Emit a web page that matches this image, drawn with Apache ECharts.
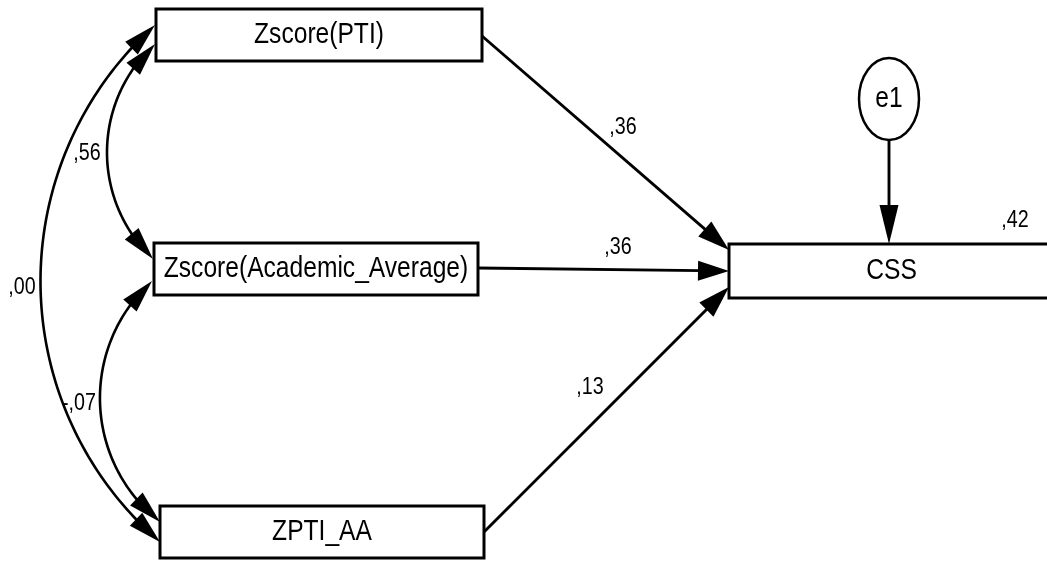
<!DOCTYPE html>
<html>
<head>
<meta charset="utf-8">
<script src="https://cdn.jsdelivr.net/npm/echarts@6/dist/echarts.min.js"></script>
<style>
html,body{margin:0;padding:0;background:#ffffff;}
#c{width:1047px;height:562px;}
</style>
</head>
<body>
<div id="c"></div>
<script>
// ---------------- data ----------------
const observedVars = ['Zscore(PTI)', 'Zscore(Academic_Average)', 'ZPTI_AA', 'CSS'];
const errorVars = ['e1'];
const pathFrom = ['Zscore(PTI)', 'Zscore(Academic_Average)', 'ZPTI_AA', 'e1'];
const pathTo = ['CSS', 'CSS', 'CSS', 'CSS'];
const pathCoef = [0.36, 0.36, 0.13, null];
const covFrom = ['Zscore(PTI)', 'Zscore(Academic_Average)', 'Zscore(PTI)'];
const covTo = ['Zscore(Academic_Average)', 'ZPTI_AA', 'ZPTI_AA'];
const covValue = [0.56, -0.07, 0.00];
const r2Var = ['CSS'];
const r2Value = [0.42];

// ---------------- layout (diagram space, separate from data) ----------------
const boxLayout = {
  'Zscore(PTI)': [156, 9, 482, 61],
  'Zscore(Academic_Average)': [154, 243, 478, 295],
  'ZPTI_AA': [160, 506, 484, 558],
  'CSS': [729, 244, 1054, 298]
};
const ellipseLayout = { e1: [889, 99, 30, 41] };
// [start, tip, labelPos, headLen, headHalfWidth]
const pathLayout = [
  [[482, 36], [729, 250], [623, 127], 32, 10],
  [[478, 268], [729, 271], [618, 247], 31, 10],
  [[484, 532], [729, 287], [590, 387], 32, 10],
  [[889, 140], [889, 244], null, 39, 9.5]
];
// [tipA, tipB, bulge, labelPos]
const covLayout = [
  [[155, 44], [153, 259], 47, [87, 153]],
  [[152, 281], [160, 522], 56, [79, 403]],
  [[155, 25], [160, 542], 117, [22, 287]]
];
const r2Layout = { CSS: [1015, 220] };

// ---------------- helpers ----------------
const FONT = '"Liberation Sans", Arial, sans-serif';
const NARROW = 0.82;
const INK = '#000000';
function fmt(v) { return v.toFixed(2).replace('0.', ','); }
function norm(v) { const l = Math.hypot(v[0], v[1]) || 1; return [v[0] / l, v[1] / l]; }
function headPoints(tip, dir, len, hw) {
  const b = [tip[0] - dir[0] * len, tip[1] - dir[1] * len];
  const n = [-dir[1], dir[0]];
  return [tip, [b[0] + n[0] * hw, b[1] + n[1] * hw], [b[0] - n[0] * hw, b[1] - n[1] * hw]];
}
function label(text, p, size) {
  return { type: 'text', x: p[0], y: p[1], scaleX: NARROW, scaleY: 1,
    style: { text: text, x: 0, y: 0, align: 'center', verticalAlign: 'middle',
      fontSize: size, fontFamily: FONT, fill: '#000' } };
}

const chart = echarts.init(document.getElementById('c'), null, { renderer: 'canvas' });

const option = {
  animation: false,
  backgroundColor: '#ffffff',
  grid: { left: 0, right: 0, top: 0, bottom: 0 },
  xAxis: { type: 'value', min: 0, max: 1047, show: false },
  yAxis: { type: 'value', min: 0, max: 562, inverse: true, show: false },
  series: [
    // straight regression paths
    {
      type: 'custom', coordinateSystem: 'cartesian2d', clip: false, silent: true, z: 3,
      data: pathFrom.map((f, i) => pathLayout[i][1]),
      renderItem: function (params, api) {
        const i = params.dataIndex;
        const L = pathLayout[i];
        const s = api.coord(L[0]);
        const t = api.coord([api.value(0), api.value(1)]);
        const d = norm([t[0] - s[0], t[1] - s[1]]);
        const len = L[3], hw = L[4];
        const b = [t[0] - d[0] * (len - 2), t[1] - d[1] * (len - 2)];
        const kids = [
          { type: 'line', shape: { x1: s[0], y1: s[1], x2: b[0], y2: b[1] }, style: { stroke: INK, lineWidth: 2.9 } },
          { type: 'polygon', shape: { points: headPoints(t, d, len, hw) }, style: { fill: INK } }
        ];
        if (pathCoef[i] !== null && L[2]) kids.push(label(fmt(pathCoef[i]), api.coord(L[2]), 24));
        return { type: 'group', children: kids };
      }
    },
    // covariance arcs (double-headed)
    {
      type: 'custom', coordinateSystem: 'cartesian2d', clip: false, silent: true, z: 3,
      data: covFrom.map((f, i) => covLayout[i][0]),
      renderItem: function (params, api) {
        const i = params.dataIndex;
        const L = covLayout[i];
        const A = api.coord(L[0]);
        const B = api.coord(L[1]);
        const s = L[2];
        const c = Math.hypot(B[0] - A[0], B[1] - A[1]);
        const M = [(A[0] + B[0]) / 2, (A[1] + B[1]) / 2];
        const n = [-(B[1] - A[1]) / c, (B[0] - A[0]) / c];
        const R = (c * c / 4 + s * s) / (2 * s);
        const O = [M[0] + n[0] * (s - R), M[1] + n[1] * (s - R)];
        const a0 = Math.atan2(A[1] - O[1], A[0] - O[0]);
        const a1r = Math.atan2(B[1] - O[1], B[0] - O[0]);
        let delta = a1r - a0;
        while (delta > Math.PI) delta -= 2 * Math.PI;
        while (delta < -Math.PI) delta += 2 * Math.PI;
        const a1 = a0 + delta;
        const sg = delta >= 0 ? 1 : -1;
        const len = 33, hw = 9;
        const da = len / R;
        const th0 = a0 + sg * da, th1 = a1 - sg * da;
        const P = th => [O[0] + R * Math.cos(th), O[1] + R * Math.sin(th)];
        const pts = [];
        const N = 90;
        const th0b = a0 + sg * (da - 3 / R), th1b = a1 - sg * (da - 3 / R);
        for (let k = 0; k <= N; k++) pts.push(P(th0b + (th1b - th0b) * k / N));
        const bA = P(th0), bB = P(th1);
        const dA = norm([A[0] - bA[0], A[1] - bA[1]]);
        const dB = norm([B[0] - bB[0], B[1] - bB[1]]);
        return { type: 'group', children: [
          { type: 'polyline', shape: { points: pts }, style: { stroke: INK, lineWidth: 2.6, fill: null } },
          { type: 'polygon', shape: { points: headPoints(A, dA, len, hw) }, style: { fill: INK } },
          { type: 'polygon', shape: { points: headPoints(B, dB, len, hw) }, style: { fill: INK } },
          label(fmt(covValue[i]), api.coord(L[3]), 24)
        ] };
      }
    },
    // observed variable boxes
    {
      type: 'custom', coordinateSystem: 'cartesian2d', clip: false, silent: true, z: 2,
      data: observedVars.map(n => { const r = boxLayout[n]; return [(r[0] + r[2]) / 2, (r[1] + r[3]) / 2]; }),
      renderItem: function (params, api) {
        const name = observedVars[params.dataIndex];
        const r = boxLayout[name];
        const p1 = api.coord([r[0], r[1]]);
        const p2 = api.coord([r[2], r[3]]);
        const c = api.coord([api.value(0), api.value(1)]);
        return { type: 'group', children: [
          { type: 'rect', shape: { x: p1[0], y: p1[1], width: p2[0] - p1[0], height: p2[1] - p1[1] },
            style: { fill: '#ffffff', stroke: INK, lineWidth: 3 } },
          label(name, c, 30)
        ] };
      }
    },
    // error terms (ellipses)
    {
      type: 'custom', coordinateSystem: 'cartesian2d', clip: false, silent: true, z: 2,
      data: errorVars.map(n => [ellipseLayout[n][0], ellipseLayout[n][1]]),
      renderItem: function (params, api) {
        const name = errorVars[params.dataIndex];
        const e = ellipseLayout[name];
        const c = api.coord([api.value(0), api.value(1)]);
        const edge = api.coord([e[0] + e[2], e[1] + e[3]]);
        return { type: 'group', children: [
          { type: 'ellipse', shape: { cx: c[0], cy: c[1], rx: edge[0] - c[0], ry: edge[1] - c[1] },
            style: { fill: '#ffffff', stroke: INK, lineWidth: 2.5 } },
          label(name, c, 30)
        ] };
      }
    },
    // squared multiple correlation
    {
      type: 'custom', coordinateSystem: 'cartesian2d', clip: false, silent: true, z: 4,
      data: r2Var.map(n => r2Layout[n]),
      renderItem: function (params, api) {
        const c = api.coord([api.value(0), api.value(1)]);
        return label(fmt(r2Value[params.dataIndex]), c, 24);
      }
    }
  ]
};
chart.setOption(option);
</script>
</body>
</html>
